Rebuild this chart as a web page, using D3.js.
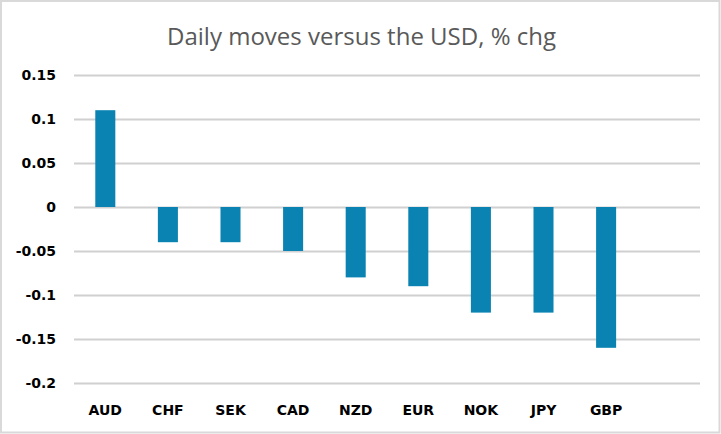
<!DOCTYPE html>
<html>
<head>
<meta charset="utf-8">
<script src="https://cdn.jsdelivr.net/npm/d3@7"></script>
<style>
  body { margin: 0; background: #fff; }
  svg { display: block; }
</style>
</head>
<body>
<div id="chart"></div>
<script>
const title = 'Daily moves versus the USD, % chg';
const categories = ['AUD', 'CHF', 'SEK', 'CAD', 'NZD', 'EUR', 'NOK', 'JPY', 'GBP'];
const values = [0.11, -0.04, -0.04, -0.05, -0.08, -0.09, -0.12, -0.12, -0.16];
const tickValues = [0.15, 0.1, 0.05, 0, -0.05, -0.1, -0.15, -0.2];
const tickLabels = ['0.15', '0.1', '0.05', '0', '-0.05', '-0.1', '-0.15', '-0.2'];

const width = 721;
const height = 434;
const plot = {left: 74, right: 700, top: 75, bottom: 383};

const svg = d3.select('#chart')
  .append('svg')
  .attr('width', width)
  .attr('height', height);

svg.append('rect')
  .attr('x', 1).attr('y', 1)
  .attr('width', width - 2.5).attr('height', height - 2.5)
  .attr('fill', '#fff')
  .attr('stroke', '#d9d9d9')
  .attr('stroke-width', 2);

svg.append('text')
  .attr('x', 361.5)
  .attr('y', 45)
  .attr('text-anchor', 'middle')
  .attr('font-family', 'Open Sans, sans-serif')
  .attr('font-size', 24)
  .attr('fill', '#595959')
  .attr('textLength', 389)
  .attr('lengthAdjust', 'spacingAndGlyphs')
  .text(title);

// one empty slot at the right, as in the original plot area
const x = d3.scaleBand()
  .domain(categories.concat(['']))
  .range([plot.left, plot.right])
  .paddingInner(0.68)
  .paddingOuter(0.34);

const y = d3.scaleLinear()
  .domain([-0.2, 0.15])
  .range([plot.bottom, plot.top]);

const yAxis = svg.append('g')
  .attr('transform', `translate(${plot.left},0)`)
  .call(d3.axisLeft(y)
    .tickValues(tickValues)
    .tickSize(-(plot.right - plot.left))
    .tickPadding(18)
    .tickFormat((d, i) => tickLabels[i]));

yAxis.select('.domain').remove();
yAxis.selectAll('.tick line')
  .attr('stroke', '#d0d0d0')
  .attr('stroke-width', 2);
yAxis.selectAll('.tick text')
  .attr('font-family', 'DejaVu Sans, sans-serif')
  .attr('font-weight', 'bold')
  .attr('font-size', 14)
  .attr('fill', '#000');

svg.append('g')
  .selectAll('rect')
  .data(values)
  .enter().append('rect')
  .attr('x', (d, i) => x(categories[i]))
  .attr('width', x.bandwidth())
  .attr('y', d => y(Math.max(0, d)))
  .attr('height', d => Math.abs(y(d) - y(0)))
  .attr('fill', '#0a83b2');

svg.append('g')
  .selectAll('text')
  .data(categories)
  .enter().append('text')
  .attr('x', d => x(d) + x.bandwidth() / 2)
  .attr('y', 414.5)
  .attr('text-anchor', 'middle')
  .attr('font-family', 'DejaVu Sans, sans-serif')
  .attr('font-weight', 'bold')
  .attr('font-size', 14)
  .attr('fill', '#000')
  .text(d => d);
</script>
</body>
</html>
